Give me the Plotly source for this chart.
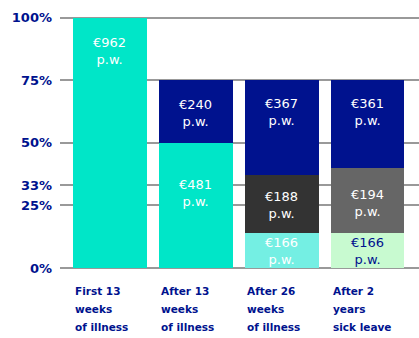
import plotly.graph_objects as go

# ---- data ----
categories = ["First 13 weeks of illness", "After 13 weeks of illness",
              "After 26 weeks of illness", "After 2 years sick leave"]
label_lines = [["First 13", "weeks", "of illness"],
               ["After 13", "weeks", "of illness"],
               ["After 26", "weeks", "of illness"],
               ["After 2", "years", "sick leave"]]

base_vals = [100, 50, 14, 14]
base_text = ["€962", "€481", "€166", "€166"]
mid_vals = [None, None, 23, 26]
mid_text = [None, None, "€188", "€194"]
top_vals = [None, 25, 38, 35]
top_text = [None, "€240", "€367", "€361"]

tick_vals = [0, 25, 33, 50, 75, 100]
tick_text = ["0%", "25%", "33%", "50%", "75%", "100%"]

# ---- styles ----
NAVY = "#00128E"
TEAL = "#00E6C8"
base_colors = [TEAL, TEAL, "#74EFE3", "#C8FAD0"]
mid_colors = ["#333333", "#333333", "#333333", "#666666"]
top_colors = [NAVY] * 4
base_txtcol = ["white", "white", "white", NAVY]
# vertical offsets (px) of text block centre from segment top
base_off = [33, 50, 18, 18]
mid_off = [0, 0, 30, 35]
top_off = [0, 33, 32, 32]

fig = go.Figure()
fig.add_bar(x=categories, y=base_vals, marker_color=base_colors, width=0.86,
            marker_line_width=0, hoverinfo="skip")
fig.add_bar(x=categories, y=mid_vals, marker_color=mid_colors, width=0.86,
            marker_line_width=0, hoverinfo="skip")
fig.add_bar(x=categories, y=top_vals, marker_color=top_colors, width=0.86,
            marker_line_width=0, hoverinfo="skip")

TXT_FONT = "DejaVu Sans"
for i, c in enumerate(categories):
    b = base_vals[i] or 0
    m = mid_vals[i] or 0
    t = top_vals[i] or 0
    segs = [(b, b, base_text[i], base_off[i], base_txtcol[i]),
            (b + m, m, mid_text[i], mid_off[i], "white"),
            (b + m + t, t, top_text[i], top_off[i], "white")]
    for top, h, txt, off, col in segs:
        if not txt or not h:
            continue
        fig.add_annotation(x=c, y=top, text=f"{txt}<br>p.w.", showarrow=False,
                           yanchor="middle", xanchor="center", yshift=-off,
                           font=dict(family=TXT_FONT, size=13, color=col))
    for j, line in enumerate(label_lines[i]):
        fig.add_annotation(x=i - 0.43, xref="x", yref="paper", y=0,
                           yshift=-23 - 18 * j, yanchor="middle", xanchor="left",
                           text=f"<b>{line}</b>", showarrow=False,
                           font=dict(family="DejaVu Sans", size=10.5, color=NAVY))

fig.update_layout(
    barmode="stack",
    width=419, height=338,
    margin=dict(l=60, r=0, t=14, b=70),
    paper_bgcolor="white", plot_bgcolor="white",
    showlegend=False,
    bargap=0,
)
fig.update_xaxes(type="category", range=[-0.58, 3.6], showticklabels=False,
                 showgrid=False, showline=False, zeroline=False, ticks="")
fig.update_yaxes(range=[0, 101.5], tickvals=tick_vals, ticktext=tick_text,
                 showgrid=True, gridcolor="#999999", gridwidth=2,
                 zeroline=True, zerolinecolor="#999999", zerolinewidth=2,
                 showline=False, ticks="", ticklabelstandoff=7,
                 tickfont=dict(family="DejaVu Sans", size=13, color=NAVY,
                               weight="bold"))

fig.write_html("out.html")
